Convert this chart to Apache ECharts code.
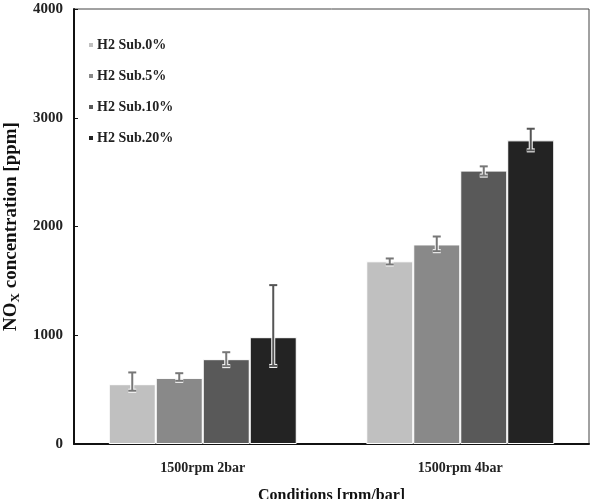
<!DOCTYPE html>
<html>
<head>
<meta charset="utf-8">
<script src="https://cdn.jsdelivr.net/npm/echarts@6/dist/echarts.min.js"></script>
<style>
  html, body { margin: 0; padding: 0; background: #fff; }
  #chart { width: 593px; height: 499px; }
</style>
</head>
<body>
<div id="chart"></div>
<script>
// data
const categories = ['1500rpm 2bar', '1500rpm 4bar'];
const seriesNames = ['H2 Sub.0%', 'H2 Sub.5%', 'H2 Sub.10%', 'H2 Sub.20%'];
const sub0 = [550, 1680];
const sub5 = [608, 1835];
const sub10 = [780, 2514];
const sub20 = [982, 2792];
const errLow = [[490, 1651], [581, 1773], [716, 2468], [718, 2700]];
const errHigh = [[658, 1706], [651, 1908], [844, 2553], [1461, 2899]];
const yTicks = [0, 1000, 2000, 3000, 4000];

const colors = ['#c0c0c0', '#898989', '#595959', '#232323'];
const values = [sub0, sub5, sub10, sub20];
const catGap = 0.27;
const serif = '"Liberation Serif", "DejaVu Serif", serif';

const chart = echarts.init(document.getElementById('chart'), null, { renderer: 'canvas' });

let series = values.map((v, i) => ({
    name: seriesNames[i],
    type: 'bar',
    data: v,
    barGap: '0%',
    barCategoryGap: (catGap * 100) + '%',
    itemStyle: { color: colors[i], borderColor: '#fff', borderWidth: 1 }
}));

// error bars, placed on top of grouped bars
let errData = [];
for (let s = 0; s < 4; s++) {
    for (let c = 0; c < categories.length; c++) {
        errData.push([c, errLow[s][c], errHigh[s][c], s]);
    }
}
series.push({
    type: 'custom',
    name: 'err',
    data: errData,
    z: 10,
    renderItem: function (params, api) {
        const c = api.value(0);
        const s = api.value(3);
        const band = api.size([1, 0])[0];
        const barW = band * (1 - catGap) / 4;
        const lo = api.coord([c, api.value(1)]);
        const hi = api.coord([c, api.value(2)]);
        const x = lo[0] - barW * 2 + barW * (s + 0.5);
        const cap = 4;
        const col = s === 3 ? '#555' : '#777';
        const lines = [
            [[x, lo[1]], [x, hi[1]]],
            [[x - cap, lo[1]], [x + cap, lo[1]]],
            [[x - cap, hi[1]], [x + cap, hi[1]]]
        ];
        let children = [];
        lines.forEach(p => children.push({
            type: 'line',
            shape: { x1: p[0][0], y1: p[0][1], x2: p[1][0], y2: p[1][1] },
            style: { stroke: '#fff', lineWidth: 4 }
        }));
        lines.forEach(p => children.push({
            type: 'line',
            shape: { x1: p[0][0], y1: p[0][1], x2: p[1][0], y2: p[1][1] },
            style: { stroke: col, lineWidth: 2 }
        }));
        return { type: 'group', children: children };
    }
});

chart.setOption({
    backgroundColor: '#ffffff',
    animation: false,
    grid: {
        left: 74,
        right: 4,
        top: 9,
        bottom: 55,
        containLabel: false,
        outerBoundsMode: 'none',
        show: true,
        borderColor: '#444',
        borderWidth: 1
    },
    legend: {
        data: seriesNames,
        orient: 'vertical',
        left: 82,
        top: 33,
        itemWidth: 6,
        itemHeight: 6,
        itemGap: 17,
        icon: 'rect',
        textStyle: { fontFamily: serif, fontWeight: 'bold', fontSize: 14, color: '#222', padding: [0, 0, 0, -2] }
    },
    xAxis: {
        type: 'category',
        data: categories,
        name: 'Conditions [rpm/bar]',
        nameLocation: 'middle',
        nameGap: 44,
        nameTextStyle: { fontFamily: serif, fontWeight: 'bold', fontSize: 16, color: '#111' },
        axisLine: { lineStyle: { color: '#111', width: 2 } },
        axisTick: { show: false },
        axisLabel: { fontFamily: serif, fontWeight: 'bold', fontSize: 14, color: '#222', margin: 17 }
    },
    yAxis: {
        type: 'value',
        min: yTicks[0],
        max: yTicks[yTicks.length - 1],
        interval: 1000,
        name: '{b|NO}{s|X}{b| concentration [ppm]}',
        nameLocation: 'middle',
        nameGap: 50,
        nameTextStyle: {
            rich: {
                b: { fontFamily: serif, fontWeight: 'bold', fontSize: 19, color: '#111' },
                s: { fontFamily: serif, fontWeight: 'bold', fontSize: 13, color: '#111', padding: [9, 0, 0, 0] }
            }
        },
        axisLine: { show: true, lineStyle: { color: '#111', width: 2 } },
        axisTick: { show: true, inside: true, length: 4, lineStyle: { color: '#111' } },
        splitLine: { show: false },
        axisLabel: {
            fontFamily: serif, fontWeight: 'bold', fontSize: 15, color: '#222', margin: 11,
            formatter: v => String(v)
        }
    },
    series: series
});
</script>
</body>
</html>
